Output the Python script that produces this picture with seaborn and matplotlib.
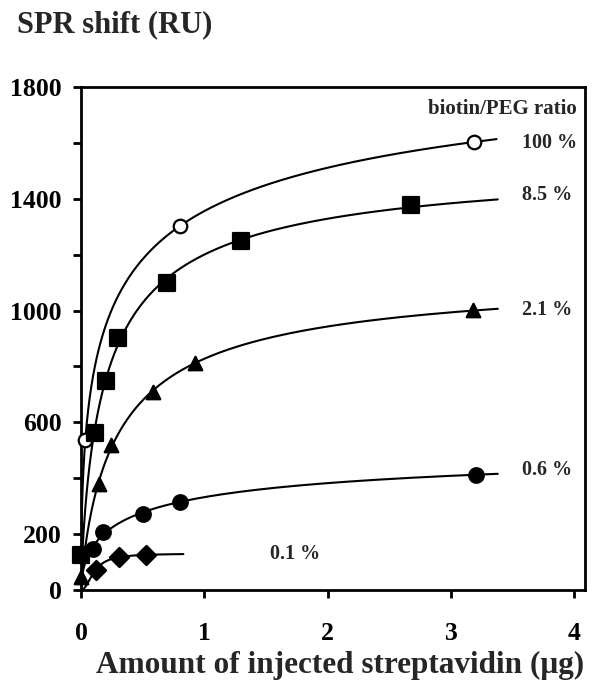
import numpy as np
import pandas as pd
import matplotlib
matplotlib.use("Agg")
import matplotlib.pyplot as plt
import seaborn as sns

# values: x = streptavidin injected (ug), y = SPR shift (RU)
x100 = [0.035, 0.80, 3.19]
y100 = [538, 1301, 1604]
x85 = [0.0, 0.11, 0.20, 0.30, 0.70, 1.30, 2.68]
y85 = [125, 562, 748, 901, 1100, 1250, 1379]
x21 = [0.0, 0.143, 0.243, 0.586, 0.925, 3.18]
y21 = [45, 380, 518, 709, 811, 1002]
x06 = [0.094, 0.175, 0.50, 0.80, 3.20]
y06 = [147, 207, 273, 315, 413]
x01 = [0.12, 0.305, 0.53]
y01 = [72, 117, 126]

labels = ["100 %", "8.5 %", "2.1 %", "0.6 %", "0.1 %"]
curve_end = [3.37, 3.38, 3.38, 3.38, 0.83]


def hill_fit(x, y):
    # least squares fit of y = B*x^n/(K^n+x^n), B solved linearly on a grid of n, K
    x = np.asarray(x, float)
    y = np.asarray(y, float)
    best = None
    for n in np.linspace(0.2, 3.0, 141):
        for K in np.geomspace(0.005, 5, 300):
            g = x**n / (K**n + x**n)
            B = (g @ y) / (g @ g)
            err = np.sum((B * g - y) ** 2)
            if best is None or err < best[0]:
                best = (err, B, K, n)
    return best[1:]


sns.set_theme(style="ticks")
plt.rcParams["font.family"] = ["Liberation Serif", "DejaVu Serif"]
plt.rcParams["font.weight"] = "bold"

fig = plt.figure(figsize=(5.93, 6.96), dpi=100)
ax = fig.add_axes([81 / 593, 1 - 590 / 696, (585 - 81) / 593, (590 - 87) / 696])

series = [(x100, y100), (x85, y85), (x21, y21), (x06, y06), (x01, y01)]
marks = ["o", "s", "^", "o", "D"]
sizes = [95, 120, 95, 110, 95]
faces = ["white", "black", "black", "black", "black"]

for (xs, ys), lab, xe, m, s, fc in zip(series, labels, curve_end, marks, sizes, faces):
    B, K, n = hill_fit(xs, ys)
    xx = np.concatenate([[0], np.geomspace(1e-4, xe, 400)])
    fit = pd.DataFrame({"x": xx, "y": B * xx**n / (K**n + xx**n)})
    sns.lineplot(data=fit, x="x", y="y", ax=ax, color="black", lw=1.5, zorder=2)
    pts = pd.DataFrame({"x": xs, "y": ys})
    sns.scatterplot(data=pts, x="x", y="y", ax=ax, marker=m, s=s,
                    facecolor=fc, edgecolor="black", linewidth=1.6, zorder=3,
                    clip_on=False)

# series labels on the right
lab_pos = [(3.58, 1601), (3.58, 1415), (3.58, 1002), (3.58, 428), (1.53, 128)]
for lab, (lx, ly) in zip(labels, lab_pos):
    ax.text(lx, ly, lab, fontsize=14.5, fontweight="bold", ha="left", va="center")
ax.text(4.02, 1722, "biotin/PEG ratio", fontsize=15, fontweight="bold",
        ha="right", va="center")

ax.set_xlim(0, 4.087)
ax.set_ylim(0, 1800)
ax.set_xticks([0, 1, 2, 3, 4])
ax.set_yticks(np.arange(0, 1801, 200))
ax.set_yticklabels(["0", "200", "", "600", "", "1000", "", "1400", "", "1800"])

for sp in ax.spines.values():
    sp.set_linewidth(2.0)
    sp.set_color("black")
    sp.set_visible(True)
ax.tick_params(axis="both", direction="out", length=5.8, width=2.0, colors="black",
               labelsize=18.5)
ax.tick_params(axis="x", pad=17)
ax.tick_params(axis="y", pad=8)
for t in ax.get_xticklabels() + ax.get_yticklabels():
    t.set_fontweight("bold")

ax.set_ylabel("")
ax.set_xlabel("Amount of injected streptavidin (\u03bcg)", fontsize=22.5,
              fontweight="bold")
ax.xaxis.set_label_coords((340 - 81) / (585 - 81), -(651 - 590) / (590 - 87))
fig.text(17 / 593, 1 - 25 / 696, "SPR shift (RU)", fontsize=22, fontweight="bold",
         ha="left", va="center")

fig.savefig("out.png", dpi=100)
